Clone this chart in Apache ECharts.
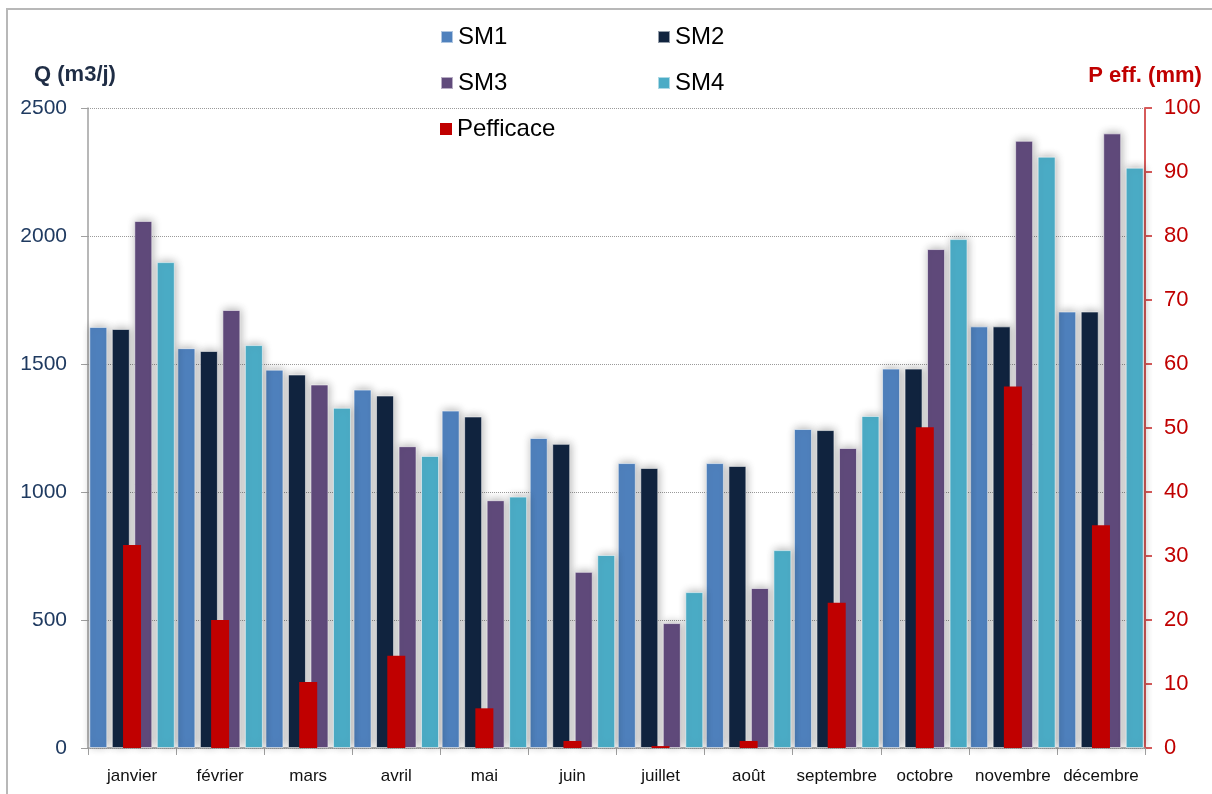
<!DOCTYPE html>
<html>
<head>
<meta charset="utf-8">
<script src="https://cdn.jsdelivr.net/npm/echarts@6/dist/echarts.min.js"></script>
<style>
  html, body { margin: 0; padding: 0; background: #fff; }
  #chart { width: 1212px; height: 794px; }
</style>
</head>
<body>
<div id="chart"></div>
<script>
// mois (axe X)
var mois = ['janvier', 'février', 'mars', 'avril', 'mai', 'juin', 'juillet', 'août', 'septembre', 'octobre', 'novembre', 'décembre'];

// débits Q (m3/j), axe gauche
var sm1 = [1645, 1562, 1478, 1400, 1318, 1211, 1113, 1113, 1246, 1482, 1647, 1705];
var sm2 = [1637, 1551, 1459, 1377, 1295, 1188, 1094, 1102, 1242, 1482, 1647, 1705];
var sm3 = [2059, 1711, 1420, 1179, 968, 688, 488, 625, 1172, 1949, 2372, 2401];
var sm4 = [1898, 1574, 1329, 1141, 982, 754, 609, 773, 1297, 1988, 2310, 2267];

// pluie efficace (mm), axe droit
var pefficace = [31.7, 20.0, 10.3, 14.4, 6.2, 1.1, 0.3, 1.1, 22.7, 50.1, 56.5, 34.8];

var couleurs = ['#4f81bd', '#11243f', '#604a7b', '#4bacc6', '#c00000'];

var myChart = echarts.init(document.getElementById('chart'));

function legende(nom, left, top) {
  return {
    data: [nom],
    left: left,
    top: top,
    padding: 0,
    icon: 'rect',
    itemWidth: 12,
    itemHeight: 12,
    textStyle: { fontSize: 24, color: '#000', fontFamily: 'Liberation Sans, Arial, sans-serif' }
  };
}

function serieQ(nom, data, idx) {
  return {
    name: nom,
    type: 'bar',
    data: data,
    barWidth: 18,
    barGap: '25%',
    itemStyle: {
      color: couleurs[idx],
      borderColor: 'rgba(255,255,255,0.55)',
      borderWidth: 1,
      shadowColor: 'rgba(0,0,0,0.3)',
      shadowBlur: 8,
      shadowOffsetX: 1,
      shadowOffsetY: -1
    },
    z: 2
  };
}

myChart.setOption({
  backgroundColor: '#fff',
  animation: false,
  textStyle: { fontFamily: 'Liberation Sans, Arial, sans-serif' },
  graphic: [{
    type: 'rect',
    shape: { x: 7, y: 9, width: 1230, height: 820 },
    style: { fill: 'none', stroke: '#b8b8b8', lineWidth: 2 },
    z: -1
  }],
  legend: [
    legende('SM1', 440, 25),
    legende('SM2', 657, 25),
    legende('SM3', 440, 71),
    legende('SM4', 657, 71),
    legende('Pefficace', 440, 117)
  ],
  grid: {
    top: 108,
    left: 88,
    right: 67,
    bottom: 46
  },
  xAxis: [{
    type: 'category',
    data: mois,
    axisLine: { lineStyle: { color: '#a0a0a0', width: 1.5 } },
    axisTick: { show: true, length: 7, lineStyle: { color: '#a0a0a0' } },
    axisLabel: { interval: 0, fontSize: 17, color: '#111', margin: 20 }
  }, {
    type: 'category',
    data: mois,
    show: false
  }],
  yAxis: [{
    type: 'value',
    min: 0,
    max: 2500,
    interval: 500,
    name: 'Q (m3/j)',
    nameLocation: 'end',
    nameGap: 22,
    nameTextStyle: { fontSize: 22, fontWeight: 'bold', color: '#1f2d45', align: 'center', padding: [0, 26, 0, 0] },
    axisLine: { show: true, lineStyle: { color: '#a0a0a0', width: 1.5 } },
    axisTick: { show: true, length: 7, lineStyle: { color: '#a0a0a0' } },
    axisLabel: { fontSize: 21, color: '#1f3a60', margin: 21, formatter: function (v) { return String(v); } },
    splitLine: { lineStyle: { color: '#9a9a9a', type: 'dotted', width: 1 } }
  }, {
    type: 'value',
    min: 0,
    max: 100,
    interval: 10,
    position: 'right',
    name: 'P eff. (mm)',
    nameLocation: 'end',
    nameGap: 21,
    nameTextStyle: { fontSize: 22, fontWeight: 'bold', color: '#c00000', align: 'center' },
    axisLine: { show: true, lineStyle: { color: '#d65a5a', width: 2 } },
    axisTick: { show: true, length: 7, lineStyle: { color: '#d65a5a', width: 2 } },
    axisLabel: { fontSize: 22, color: '#c00000', margin: 19 },
    splitLine: { show: false }
  }],
  series: [
    serieQ('SM1', sm1, 0),
    serieQ('SM2', sm2, 1),
    serieQ('SM3', sm3, 2),
    serieQ('SM4', sm4, 3),
    {
      name: 'Pefficace',
      type: 'bar',
      data: pefficace,
      xAxisIndex: 1,
      yAxisIndex: 1,
      barWidth: 18,
      itemStyle: { color: couleurs[4] },
      z: 5
    }
  ]
});
</script>
</body>
</html>
